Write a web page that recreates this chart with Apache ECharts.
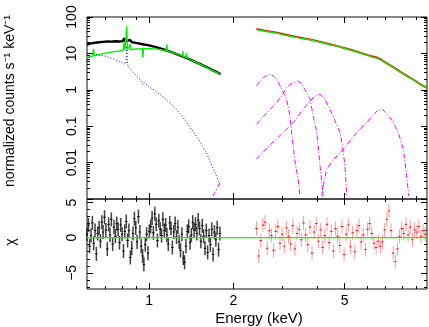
<!DOCTYPE html>
<html><head><meta charset="utf-8">
<script src="https://cdn.jsdelivr.net/npm/echarts@6/dist/echarts.min.js"></script>
<style>html,body{margin:0;padding:0;background:#fff}#c{width:429px;height:327px}</style>
</head><body><div id="c"></div>
<script>
// ---------------- DATA (energy keV, value) ----------------
const blackData = [[0.600,17.5],[0.620,18.8],[0.641,19.6],[0.663,20.3],[0.685,20.8],[0.709,21.2],[0.733,21.0],[0.758,21.6],[0.784,21.3],[0.805,21.8],[0.815,26.0],[0.825,21.5],[0.838,21.0],[0.855,23.5],[0.867,20.5],[0.896,19.4],[0.927,18.6],[0.958,17.6],[0.991,16.9],[1.025,15.8],[1.060,14.8],[1.096,13.7],[1.133,12.6],[1.171,11.6],[1.211,10.6],[1.253,9.6],[1.295,8.7],[1.339,7.9],[1.385,7.1],[1.432,6.3],[1.481,5.6],[1.531,5.0],[1.584,4.4],[1.638,3.9],[1.693,3.4],[1.751,3.0],[1.800,2.7]];
const greenModelLow = [[0.600,7.6],[0.615,8.1],[0.628,8.4],[0.633,13.4],[0.638,8.6],[0.66,9.2],[0.70,10.2],[0.74,11.0],[0.78,11.6],[0.808,12.0],[0.814,20.4],[0.820,12.2],[0.828,12.3],[0.832,56],[0.837,12.4],[0.850,12.6],[0.855,17.6],[0.860,12.7],[0.90,13.2],[0.945,13.5],[0.950,7.6],[0.955,13.5],[1.00,13.6],[1.05,13.3],[1.10,12.6],[1.150,11.8],[1.157,17.6],[1.164,11.6],[1.22,10.5],[1.28,9.1],[1.316,8.4],[1.320,11.6],[1.325,8.3],[1.355,7.7],[1.360,10.4],[1.365,7.6],[1.42,6.5],[1.50,5.3],[1.58,4.4],[1.66,3.6],[1.74,3.0],[1.80,2.65]];
const blueComp = [[0.600,10.2],[0.64,9.5],[0.68,8.7],[0.70,8.4],[0.74,7.2],[0.78,6.0],[0.80,5.6],[0.826,5.0],[0.832,16],[0.838,4.9],[0.85,4.0],[0.88,3.0],[0.90,2.4],[0.93,1.9],[0.95,1.4],[0.96,1.6],[1.00,1.22],[1.05,0.95],[1.10,0.72],[1.15,0.54],[1.20,0.40],[1.25,0.29],[1.30,0.21],[1.35,0.14],[1.40,0.092],[1.45,0.065],[1.50,0.044],[1.55,0.029],[1.60,0.019],[1.65,0.011],[1.70,0.0066],[1.75,0.0039],[1.80,0.0023]];
const redData = [[2.42,46.5],[2.5,44.5],[2.6,42.0],[2.7,40.0],[2.86,37.2],[3.0,34.0],[3.2,30.4],[3.4,27.8],[3.6,25.6],[3.76,24.1],[4.0,21.5],[4.25,19.2],[4.5,17.2],[4.75,15.6],[4.94,14.3],[5.25,12.6],[5.5,11.3],[5.75,10.1],[6.0,9.1],[6.25,8.3],[6.52,7.7],[6.75,6.7],[7.0,5.6],[7.3,4.6],[7.6,3.8],[7.9,3.1],[8.2,2.6],[8.55,2.16],[8.9,1.8],[9.2,1.5],[9.5,1.3],[9.84,1.13]];
const greenModelHigh = [[2.42,45.0],[2.5,43.0],[2.6,40.6],[2.7,38.7],[2.86,36.0],[3.0,33.0],[3.2,29.6],[3.4,27.1],[3.6,25.0],[3.76,23.7],[4.0,21.3],[4.25,19.0],[4.5,17.1],[4.75,15.5],[4.94,14.2],[5.25,12.5],[5.5,11.2],[5.75,10.0],[6.0,8.9],[6.25,8.0],[6.52,7.4],[6.75,6.5],[7.0,5.5],[7.3,4.6],[7.6,3.8],[7.9,3.1],[8.2,2.6],[8.55,2.16],[8.9,1.8],[9.2,1.5],[9.5,1.3],[9.84,1.13]];
const magA = [[2.42,1.27],[2.49,1.7],[2.56,2.16],[2.64,2.5],[2.71,2.66],[2.78,2.4],[2.86,1.94],[2.98,1.03],[3.10,0.55],[3.19,0.19],[3.23,0.067],[3.27,0.03],[3.31,0.0125],[3.42,0.0029],[3.46,0.0012]];
const magB = [[2.42,0.113],[2.6,0.21],[2.86,0.45],[3.0,0.75],[3.1,1.15],[3.25,1.55],[3.39,1.74],[3.5,1.5],[3.6,1.03],[3.76,0.55],[3.86,0.19],[3.97,0.068],[4.03,0.024],[4.08,0.0082],[4.14,0.003],[4.19,0.0012]];
const magC = [[2.42,0.0125],[2.7,0.03],[3.0,0.065],[3.28,0.126],[3.5,0.25],[3.76,0.5],[3.95,0.7],[4.08,0.75],[4.25,0.55],[4.43,0.29],[4.6,0.15],[4.81,0.067],[4.92,0.025],[5.01,0.0082],[5.05,0.003],[5.08,0.0012]];
const magD = [[4.14,0.0012],[4.2,0.0025],[4.31,0.0066],[4.6,0.013],[4.94,0.023],[5.5,0.065],[5.98,0.126],[6.52,0.26],[6.81,0.29],[7.0,0.24],[7.4,0.14],[7.77,0.067],[8.1,0.023],[8.32,0.0044],[8.47,0.0012]];
const magE = [[1.69,0.0012],[1.75,0.002],[1.80,0.0031]];

const blackResE = [0.600,0.607,0.613,0.620,0.627,0.634,0.641,0.648,0.655,0.663,0.670,0.678,0.685,0.693,0.701,0.709,0.717,0.725,0.733,0.741,0.749,0.758,0.766,0.775,0.784,0.792,0.801,0.810,0.819,0.829,0.838,0.847,0.857,0.867,0.876,0.886,0.896,0.906,0.916,0.927,0.937,0.948,0.958,0.969,0.980,0.991,1.002,1.013,1.025,1.036,1.048,1.060,1.071,1.083,1.096,1.108,1.120,1.133,1.146,1.158,1.171,1.185,1.198,1.211,1.225,1.239,1.253,1.267,1.281,1.295,1.310,1.325,1.339,1.354,1.370,1.385,1.401,1.416,1.432,1.448,1.465,1.481,1.498,1.514,1.531,1.549,1.566,1.584,1.601,1.619,1.638,1.656,1.675,1.693,1.712,1.732,1.751,1.771,1.791];
const blackResChi = [0.5,1.8,-1.2,0.3,2.1,-0.8,1.0,-2.3,0.6,1.4,-0.5, 2.2,0.8,2.9,1.1,-1.6,1.9,0.4,2.6,-0.9,1.5,0.2,2.0, 1.2,-0.7,1.8,0.5,-1.9,0.9,2.3,-0.4,1.0,-2.8, -1.5,0.6,2.7,1.4,-0.6,3.0,0.8,-1.2, -2.6,-3.8,-1.0,0.5,-2.2,0.9, 1.6,2.8,0.7,3.4,1.9,-0.4,2.4,1.2,0.3,2.6,1.0, 1.8,0.4,-0.9,2.1,1.3,-1.4,0.8,2.0,0.1,1.5,-0.6, -1.8,0.5,-2.9,-3.5,-1.2,0.9,1.6,-0.7,0.4,2.2,1.1, 1.9,0.6,2.5,1.3,-0.5,1.7,0.2,-1.5,1.0,-2.1,0.3, -1.0,1.2,-2.4,0.8,-0.3,1.4,-1.7,0.6];
const redResE = [2.42,2.463,2.507,2.551,2.596,2.642,2.689,2.737,2.785,2.834,2.885,2.936,2.988,3.041,3.095,3.150,3.205,3.262,3.320,3.379,3.439,3.500,3.562,3.625,3.689,3.755,3.821,3.889,3.958,4.028,4.100,4.172,4.246,4.322,4.398,4.476,4.556,4.636,4.719,4.802,4.888,4.974,5.062,5.152,5.244,5.337,5.431,5.527,5.625,5.725,5.826,5.930,6.035,6.142,6.250,6.361,6.474,6.588,6.705,6.824,6.945,7.068,7.193,7.320,7.450,7.582,7.716,7.853,7.992,8.133,8.277,8.424,8.573,8.725,8.880,9.037,9.197,9.360,9.526,9.695];
const redResChi = [1.3,-2.6,-0.4,1.8,2.2,-1.5,1.0,0.3,-1.8,0.9,1.6,-0.8,0.5,-1.2,1.4,0.2,-0.9,1.7,-1.6,0.6,1.2,-0.3,2.1,0.4,-1.0,1.5,-2.2,0.8,2.0,-0.5,1.1,-1.4,0.3,1.9,-0.7,0.9,-1.9,1.3,0.2,-1.1,1.6,-2.4,0.5,1.8,-1.3,0.7,-2.0,1.0,1.7,-0.6,0.4,-1.7,1.2,2.0,0.6,-0.8,-1.4,-0.5,-1.2,-0.6,1.1,2.6,3.8,1.0,-2.2,-3.4,-1.6,0.2,1.3,0.6,1.9,0.4,1.5,-0.3,1.1,0.8,1.6,0.2,1.0,0.5];
const chiErr = 1;
const zeroLine = [[0.6,0],[9.84,0]];

// ticks / labels
const xRange = [0.6, 9.84];
const xMajorTicks = [1,2,5];
const xMinorTicks = [0.7,0.8,0.9,3,4,6,7,8,9];
const xLabels = [1,2,5];
const yRange = [0.001, 100];
const yDecades = [0.001,0.01,0.1,1,10,100];
const yLabels = [0.01,0.1,1,10,100];
const resRange = [-7.3, 5.5];
const resMajor = [-5,0,5];
const resMinor = [-7,-6,-4,-3,-2,-1,1,2,3,4];

// ---------------- CHART ----------------
const FONT = '"Liberation Sans", Arial, Helvetica, sans-serif';
const L = Math.log10;
const GW = 340, GH0 = 182, GH1 = 90;
const yMinor = [];
yDecades.slice(0,-1).forEach(d => { for (let k=2;k<=9;k++) yMinor.push(d*k); });

const fmtX = v => String(Math.round(Math.pow(10,v)));
const fmtY = v => { const p=Math.round(v); return p>=0 ? String(Math.pow(10,p)) : Math.pow(10,p).toFixed(-p); };
const fmtR = v => v<0 ? '\u2212'+(-v) : String(v);

const xl = [L(xRange[0]), L(xRange[1])];
const yl = [L(yRange[0]), L(yRange[1])];

function mainAxis(kind, grid, min, max, labels, fmt, rot) {
  return {
    type:'value', gridIndex:grid, position: kind==='x'?'bottom':'left', min:min, max:max,
    axisLine:{show:false, onZero:false}, splitLine:{show:false}, axisTick:{show:false},
    axisLabel: labels ? {show:true, customValues:labels, formatter:fmt, color:'#000', fontFamily:FONT, fontSize:14, margin: kind==='y'?8:5, rotate: rot||0} : {show:false}
  };
}
// hidden reference axes whose zero lies on one edge of the plot
function refAxis(grid, min, max) {
  return {type:'value', gridIndex:grid, min:min, max:max, show:false,
    axisLine:{show:false, onZero:false}, axisTick:{show:false}, axisLabel:{show:false}, splitLine:{show:false}};
}
// tick-only axes, pinned to an edge through onZero on a reference axis
function tickAxis(grid, pos, min, max, ticks, len, zeroIdx) {
  return {type:'value', gridIndex:grid, position:pos, min:min, max:max,
    axisLine:{show:false, onZero:true, onZeroAxisIndex:zeroIdx}, splitLine:{show:false}, axisLabel:{show:false},
    axisTick:{show:true, inside:true, length:len, customValues:ticks, lineStyle:{color:'#000', width:1}}};
}

const xMaj = xMajorTicks.map(L), xMin = xMinorTicks.map(L);
const yMaj0 = yDecades.map(L), yMin0 = yMinor.map(L);

const xAxes = [
  mainAxis('x',0,xl[0],xl[1]),                       // 0
  mainAxis('x',1,xl[0],xl[1],xLabels.map(L),fmtX),   // 1
  refAxis(0,0,1), refAxis(0,-1,0),                   // 2 left-zero, 3 right-zero (grid 0)
  refAxis(1,0,1), refAxis(1,-1,0),                   // 4, 5 (grid 1)
  tickAxis(0,'bottom',xl[0],xl[1],xMaj,6,2), tickAxis(0,'bottom',xl[0],xl[1],xMin,3,2),
  tickAxis(0,'top',xl[0],xl[1],xMaj,6,3),    tickAxis(0,'top',xl[0],xl[1],xMin,3,3),
  tickAxis(1,'bottom',xl[0],xl[1],xMaj,6,4), tickAxis(1,'bottom',xl[0],xl[1],xMin,3,4),
  tickAxis(1,'top',xl[0],xl[1],xMaj,6,5),    tickAxis(1,'top',xl[0],xl[1],xMin,3,5)
];
const yAxes = [
  mainAxis('y',0,yl[0],yl[1],yLabels.map(L),fmtY,90),            // 0
  mainAxis('y',1,resRange[0],resRange[1],resMajor,fmtR,90),       // 1
  refAxis(0,0,1), refAxis(0,-1,0),                                // 2 bottom-zero, 3 top-zero (grid 0)
  refAxis(1,0,1), refAxis(1,-1,0),                                // 4, 5 (grid 1)
  tickAxis(0,'left',yl[0],yl[1],yMaj0,6,2),  tickAxis(0,'left',yl[0],yl[1],yMin0,3,2),
  tickAxis(0,'right',yl[0],yl[1],yMaj0,6,3), tickAxis(0,'right',yl[0],yl[1],yMin0,3,3),
  tickAxis(1,'left',resRange[0],resRange[1],resMajor,6,4),  tickAxis(1,'left',resRange[0],resRange[1],resMinor,3,4),
  tickAxis(1,'right',resRange[0],resRange[1],resMajor,6,5), tickAxis(1,'right',resRange[0],resRange[1],resMinor,3,5)
];

const toLog = arr => arr.map(p => [L(p[0]), L(p[1])]);
function line(data, color, width, type, z) {
  return {type:'line', xAxisIndex:0, yAxisIndex:0, data:toLog(data), showSymbol:false, symbol:'none',
    lineStyle:{color:color, width:width, type:type||'solid'}, z:z||2, animation:false, clip:true};
}
function errSeries(E, chi, barColor, dotColor, w) {
  return {type:'custom', xAxisIndex:1, yAxisIndex:1, animation:false, z:3,
    dimensions:['x','y','e'], encode:{x:0,y:1},
    data:E.map((e,i)=>[L(e), chi[i], chiErr]),
    renderItem:(params, api) => {
      const x=api.value(0), y=api.value(1), e=api.value(2);
      const p1=api.coord([x,y-e]), p2=api.coord([x,y+e]), c=api.coord([x,y]);
      return {type:'group', children:[
        {type:'line', shape:{x1:p1[0],y1:p1[1],x2:p2[0],y2:p2[1]}, style:{stroke:barColor, lineWidth:w}},
        {type:'line', shape:{x1:c[0]-1.2,y1:c[1],x2:c[0]+1.2,y2:c[1]}, style:{stroke:dotColor, lineWidth:1}}
      ]};
    }};
}

const dashDot = [5,2,1,2];
const option = {
  backgroundColor:'#fff',
  animation:false,
  grid:[
    {left:87, top:17, width:GW, height:GH0, show:true, borderColor:'#111', borderWidth:1, backgroundColor:'transparent'},
    {left:87, top:199, width:GW, height:GH1, show:true, borderColor:'#111', borderWidth:1, backgroundColor:'transparent'}
  ],
  xAxis:xAxes, yAxis:yAxes,
  series:[
    line(blueComp,'#0000ff',1,[1,2],2),
    line(magA,'#ff00ff',1,dashDot,2),
    line(magB,'#ff00ff',1,dashDot,2),
    line(magC,'#ff00ff',1,dashDot,2),
    line(magD,'#ff00ff',1,dashDot,2),
    line(magE,'#ff00ff',1,dashDot,2),
    line(blackData,'#000000',2.4,'solid',3),
    line(redData,'#ff0000',2,'solid',3),
    line(greenModelLow,'#00ee00',1.3,'solid',4),
    line(greenModelHigh,'#00ee00',1.3,'solid',4),
    errSeries(blackResE, blackResChi, 'rgba(30,30,30,0.85)', '#000', 1.5),
    errSeries(redResE, redResChi, '#ff9a9a', '#ff0000', 1),
    {type:'line', xAxisIndex:1, yAxisIndex:1, data:zeroLine.map(p=>[L(p[0]),p[1]]), showSymbol:false, symbol:'none',
      lineStyle:{color:'#00ff00', width:1.3}, z:5, animation:false}
  ],
  graphic:[
    {type:'text', x:10, y:101, rotation:Math.PI/2, style:{text:'normalized counts s\u207B\u00B9 keV\u207B\u00B9', font:'14px '+FONT, align:'center', verticalAlign:'middle', fill:'#000'}},
    {type:'text', x:11, y:242, rotation:Math.PI/2, style:{text:'\u03C7', font:'14px '+FONT, align:'center', verticalAlign:'middle', fill:'#000'}},
    {type:'text', x:259, y:319, style:{text:'Energy (keV)', font:'15px '+FONT, align:'center', verticalAlign:'middle', fill:'#000'}}
  ]
};
const chart = echarts.init(document.getElementById('c'), null, {renderer:'canvas'});
chart.setOption(option);
</script></body></html>
